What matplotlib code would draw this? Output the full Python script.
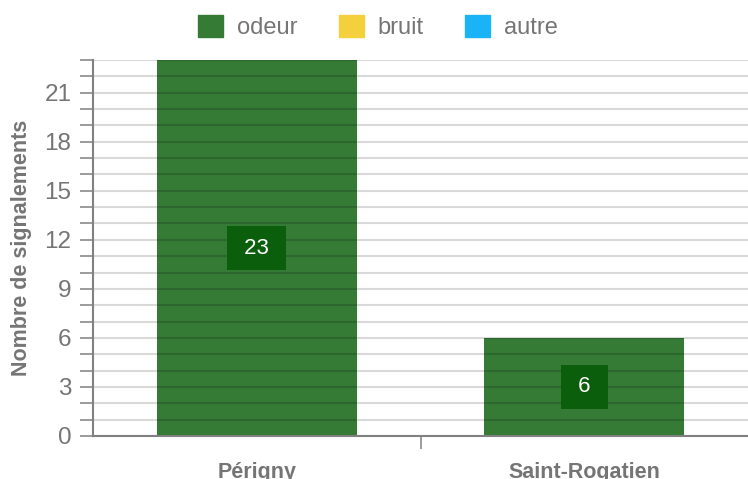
import matplotlib.pyplot as plt
from matplotlib.patches import Patch
from matplotlib.ticker import MultipleLocator

communes = ['Périgny', 'Saint-Rogatien']
odeur = [23, 6]
series_names = ['odeur', 'bruit', 'autre']
series_colors = ['#357a35', '#f5d03d', '#1ab3f5']

TEXT_GREY = '#757575'
AXIS_GREY = '#808080'

plt.rcParams['font.family'] = ['Liberation Sans', 'DejaVu Sans']

fig = plt.figure(figsize=(7.48, 4.79), dpi=100)
ax = fig.add_axes([93 / 748, 1 - 436 / 479, 1 - 93 / 748, (436 - 60) / 479])

x = list(range(len(communes)))
ax.bar(x, odeur, width=0.61, color=series_colors[0], zorder=1)

# value labels in a dark box, padded with spaces to get a wider box
for xi, v in zip(x, odeur):
    ax.text(xi, v / 2, f' {v} ', ha='center', va='center', color='white',
            fontsize=16, zorder=4,
            bbox=dict(boxstyle='square,pad=0.5', fc='#0b5e0b', ec='none'))

ax.set_xlim(-0.5, 1.5)
ax.set_ylim(0, 23)

ax.yaxis.set_major_locator(MultipleLocator(3))
ax.yaxis.set_minor_locator(MultipleLocator(1))
ax.grid(axis='y', which='both', color='black', alpha=0.15, linewidth=1.5, zorder=3)
ax.set_axisbelow(False)

ax.set_xticks(x)
ax.set_xticklabels(communes, fontweight='bold', fontsize=15.5, color=TEXT_GREY)
ax.set_xticks([0.5], minor=True)
ax.tick_params(axis='x', which='major', length=0, pad=19)
ax.tick_params(axis='x', which='minor', length=9, width=1.1, color=AXIS_GREY)
ax.tick_params(axis='y', which='both', length=9.5, width=1.1, color=AXIS_GREY,
               labelsize=17.5, labelcolor=TEXT_GREY, pad=6)

for side in ['top', 'right']:
    ax.spines[side].set_visible(False)
for side in ['left', 'bottom']:
    ax.spines[side].set_color(AXIS_GREY)
    ax.spines[side].set_linewidth(1.5)
    ax.spines[side].set_zorder(5)

ax.set_ylabel('Nombre de signalements', fontweight='bold', fontsize=15.5,
              color=TEXT_GREY)
ax.yaxis.set_label_coords(-0.093, 0.5)

handles = [Patch(color=c, label=n) for n, c in zip(series_names, series_colors)]
fig.legend(handles=handles, loc='center', bbox_to_anchor=(378 / 748, 1 - 27 / 479),
           ncol=3, frameon=False, fontsize=17, labelcolor=TEXT_GREY,
           handlelength=1.05, handleheight=1.05, handletextpad=0.6,
           columnspacing=1.75)

fig.savefig('out.png', dpi=100)
